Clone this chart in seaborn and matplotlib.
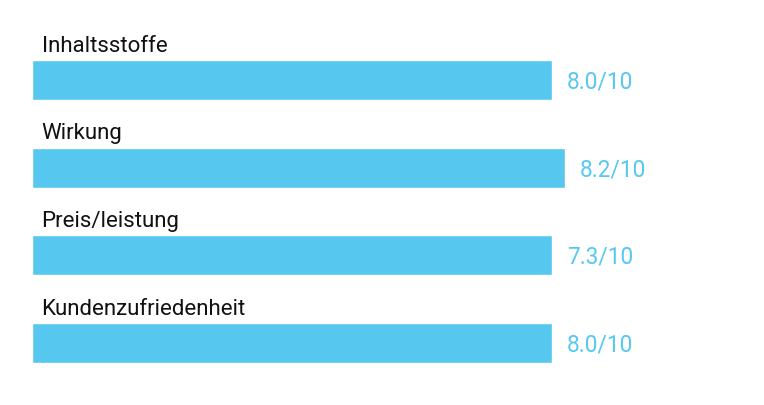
import matplotlib
matplotlib.use("Agg")
import matplotlib.pyplot as plt
import seaborn as sns
import pandas as pd

categories = ["Inhaltsstoffe", "Wirkung", "Preis/leistung", "Kundenzufriedenheit"]
bar_lengths = [8.0, 8.2, 8.0, 8.0]
score_labels = ["8.0/10", "8.2/10", "7.3/10", "8.0/10"]

df = pd.DataFrame({"category": categories, "value": bar_lengths})

sns.set_theme(style="white")
plt.rcParams["font.family"] = ["Roboto", "DejaVu Sans"]

color = "#56c8f0"
W, H = 764, 405
fig = plt.figure(figsize=(W / 100, H / 100), dpi=100)
ax = fig.add_axes([0, 0, 1, 1])

sns.barplot(data=df, x="value", y="category", orient="h", color=color,
            width=40 / 87.67, saturation=1, ax=ax)

px_per_unit_x = 520 / 8.0
x0 = 32
ax.set_xlim(-x0 / px_per_unit_x, (W - x0) / px_per_unit_x)
spacing = 87.67
first_center = 80
ax.set_ylim((H - first_center) / spacing, -first_center / spacing)

for i, (cat, val, lab) in enumerate(zip(categories, bar_lengths, score_labels)):
    ax.text(9.5 / px_per_unit_x, i - 28.5 / spacing, cat, fontsize=16,
            color="#111111", va="baseline", ha="left")
    ax.text(val + 15 / px_per_unit_x, i + 2 / spacing, lab, fontsize=16.3,
            color=color, va="center", ha="left")

ax.set_axis_off()
fig.savefig("out.png", dpi=100)
